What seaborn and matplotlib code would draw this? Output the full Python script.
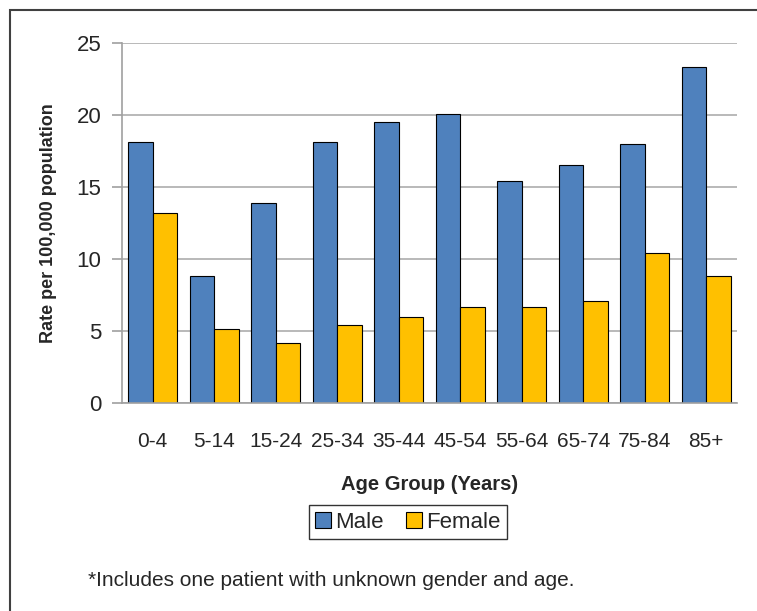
import seaborn as sns
import matplotlib.pyplot as plt
import pandas as pd
from matplotlib.patches import Rectangle
from matplotlib.ticker import FixedLocator

age_groups = ["0-4", "5-14", "15-24", "25-34", "35-44", "45-54", "55-64", "65-74", "75-84", "85+"]
male = [18.1, 8.8, 13.9, 18.1, 19.5, 20.1, 15.4, 16.5, 18.0, 23.35]
female = [13.2, 5.15, 4.2, 5.4, 6.0, 6.65, 6.65, 7.05, 10.4, 8.85]

df = pd.DataFrame({
    "Age Group": age_groups * 2,
    "Rate": male + female,
    "Gender": ["Male"] * len(male) + ["Female"] * len(female),
})

sns.set_style("white")
plt.rcParams["font.family"] = ["Liberation Sans", "DejaVu Sans"]

fig = plt.figure(figsize=(7.57, 6.11), dpi=100)
ax = fig.add_axes([122 / 757, 1 - 403 / 611, (737 - 122) / 757, (403 - 43) / 611])

sns.barplot(
    data=df,
    x="Age Group",
    y="Rate",
    hue="Gender",
    palette={"Male": "#4F81BD", "Female": "#FFC000"},
    saturation=1,
    edgecolor="black",
    linewidth=0.8,
    width=0.8,
    ax=ax,
    legend=False,
)

ax.set_ylim(0, 25)
ax.set_xlim(-0.5, len(age_groups) - 0.5)
ax.set_yticks([0, 5, 10, 15, 20, 25])
ax.yaxis.grid(True, color="#ADADAD", linewidth=1.2)
ax.set_axisbelow(True)

for side in ["top", "right"]:
    ax.spines[side].set_visible(False)
for side in ["left", "bottom"]:
    ax.spines[side].set_color("#A0A0A0")
    ax.spines[side].set_linewidth(1.2)

ax.xaxis.set_minor_locator(FixedLocator([i - 0.5 for i in range(len(age_groups) + 1)]))
ax.tick_params(axis="x", which="major", length=0, pad=21, labelsize=15)
ax.tick_params(axis="x", which="minor", length=8, color="#A0A0A0", width=1.2)
ax.tick_params(axis="y", which="major", length=7, color="#A0A0A0", width=1.2,
               left=True, labelsize=16, pad=8)

ax.set_xlabel("Age Group (Years)", fontsize=14.5, fontweight="bold", labelpad=17)
ax.set_ylabel("Rate per 100,000 population", fontsize=13, fontweight="bold", labelpad=14)

handles = [
    Rectangle((0, 0), 1, 1, facecolor="#4F81BD", edgecolor="black", linewidth=0.8),
    Rectangle((0, 0), 1, 1, facecolor="#FFC000", edgecolor="black", linewidth=0.8),
]
leg = fig.legend(
    handles, ["Male", "Female"],
    loc="center", bbox_to_anchor=(408 / 757, 1 - 522 / 611),
    ncol=2, fontsize=16, frameon=True, fancybox=False,
    handlelength=0.7, handleheight=0.7, handletextpad=0.2,
    columnspacing=1.0, borderpad=0.3, edgecolor="black",
)
leg.get_frame().set_linewidth(1.0)

fig.text(88 / 757, 1 - 580 / 611, "*Includes one patient with unknown gender and age.",
         fontsize=15, va="center", ha="left")

fig.patches.append(Rectangle((10 / 757, -0.1), 1.1, 1 - 10 / 611 + 0.1,
                             transform=fig.transFigure, fill=False,
                             edgecolor="#404040", linewidth=1.5))

fig.savefig("out.png", dpi=100)
